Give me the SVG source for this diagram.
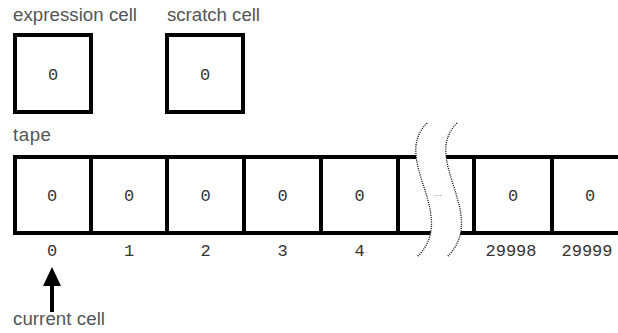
<svg xmlns="http://www.w3.org/2000/svg" width="618" height="333" viewBox="0 0 618 333">
<style>
.lbl{font-family:"Liberation Sans",Arial,sans-serif;font-size:18.7px;fill:#555}
.val{font-family:"Liberation Mono","Courier New",monospace;font-size:17px;fill:#333;text-anchor:middle}
.box{fill:#fff;stroke:#000;stroke-width:4}
.ln{stroke:#000;stroke-width:4;fill:none}
.dot{stroke:#000;stroke-width:1.3;stroke-dasharray:1 1.2;fill:none}
</style>
<rect width="618" height="333" fill="#fff"/>
<text class="lbl" x="13" y="21" textLength="124">expression cell</text>
<text class="lbl" x="167" y="21" textLength="93">scratch cell</text>
<g id="expression-cell"><rect class="box" x="15" y="35" width="76" height="77"/><text class="val" x="53" y="80">0</text></g>
<g id="scratch-cell"><rect class="box" x="167" y="35" width="76" height="77"/><text class="val" x="205" y="80">0</text></g>
<text class="lbl" x="13" y="141" textLength="38">tape</text>
<g id="tape">
<path class="ln" d="M13,157H618M13,233H618M15,155V235M91,155V235M167,155V235M244,155V235M321,155V235M398,155V235M474,155V235M552,155V235"/>
<path d="M427,123 C390,160 460,215 417,257 L447,257 C490,215 420,160 457,123 Z" fill="#fff"/>
<path class="dot" d="M427,123 C390,160 460,215 417,257"/>
<path class="dot" d="M457,123 C420,160 490,215 447,257"/>
<text x="438" y="196" font-family="Liberation Sans,sans-serif" font-size="9" fill="#888" text-anchor="middle">...</text>
<text class="val" x="52" y="201">0</text>
<text class="val" x="129" y="201">0</text>
<text class="val" x="205.5" y="201">0</text>
<text class="val" x="282.5" y="201">0</text>
<text class="val" x="359.5" y="201">0</text>
<text class="val" x="513" y="201">0</text>
<text class="val" x="590" y="201">0</text>
<text class="val" x="52" y="256">0</text>
<text class="val" x="129" y="256">1</text>
<text class="val" x="205.5" y="256">2</text>
<text class="val" x="282.5" y="256">3</text>
<text class="val" x="359.5" y="256">4</text>
<text class="val" x="511" y="256">29998</text>
<text class="val" x="587" y="256">29999</text>
</g>
<g id="connectors">
<line x1="52" y1="284" x2="52" y2="312" stroke="#000" stroke-width="4"/>
<polygon points="52,267 43,286 61,286" fill="#000"/>
</g>
<text class="lbl" x="13" y="325" textLength="92">current cell</text>
</svg>
